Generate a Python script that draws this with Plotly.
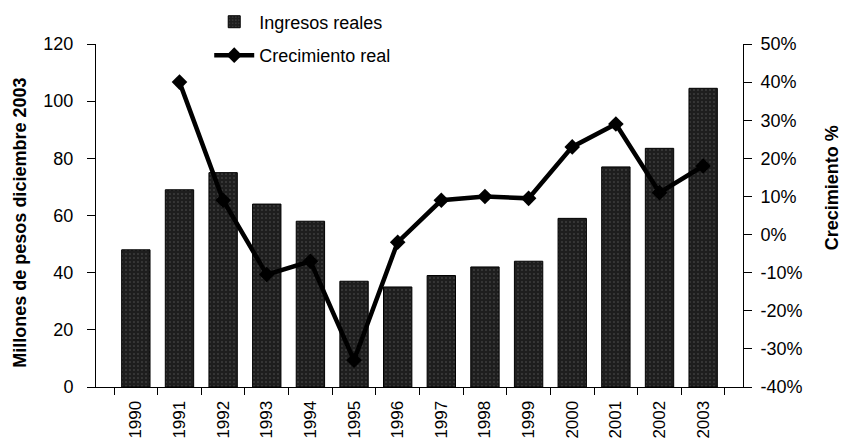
import plotly.graph_objects as go

# Ingresos reales (millones de pesos de diciembre 2003) y crecimiento real anual (%)
years = ["1990", "1991", "1992", "1993", "1994", "1995", "1996",
         "1997", "1998", "1999", "2000", "2001", "2002", "2003"]
ingresos = [48, 69, 75, 64, 58, 37, 35, 39, 42, 44, 59, 77, 83.5, 104.5]
crecimiento = [None, 40, 9, -10.5, -7, -33, -2, 9, 10, 9.5, 23, 29, 11, 18]

left_ticks = [0, 20, 40, 60, 80, 100, 120]
right_ticks = [-40, -30, -20, -10, 0, 10, 20, 30, 40, 50]
right_labels = [f"{v}%" for v in right_ticks]

FONT = "Liberation Sans, Arial, sans-serif"

fig = go.Figure()

fig.add_trace(go.Bar(
    x=years, y=ingresos, name="Ingresos reales",
    marker=dict(
        color="#1e1e1e",
        line=dict(color="#000000", width=1),
        pattern=dict(shape=".", fgcolor="#8a8a8a", size=4, solidity=0.12),
    ),
    legendgroup="a",
))

fig.add_trace(go.Scatter(
    x=years, y=crecimiento, name="Crecimiento real", yaxis="y2",
    mode="lines+markers",
    line=dict(color="#000000", width=4.5),
    marker=dict(symbol="diamond", size=12, color="#000000"),
    connectgaps=False,
    legendgroup="b",
))

fig.update_layout(
    width=843, height=442,
    margin=dict(l=96, r=100, t=44, b=55, autoexpand=False),
    paper_bgcolor="white", plot_bgcolor="white",
    font=dict(family=FONT, size=18, color="#000000"),
    bargap=0.35,
    showlegend=True,
    legend=dict(
        x=0.175, xanchor="left", y=1.118, yanchor="top",
        font=dict(size=18), bgcolor="rgba(0,0,0,0)",
        traceorder="grouped", tracegroupgap=7,
        itemwidth=40,
    ),
    xaxis=dict(
        type="category", showline=True, linecolor="#000000", linewidth=1,
        ticks="outside", ticklen=7, tickcolor="#000000", tickson="boundaries",
        tickangle=-90, tickfont=dict(size=17), showgrid=False,
        zeroline=False, ticklabelstandoff=6,
    ),
    yaxis=dict(
        range=[0, 120], tickvals=left_ticks, showline=True,
        linecolor="#000000", linewidth=1, ticks="outside", ticklen=8,
        tickcolor="#000000", showgrid=False, zeroline=False,
        tickfont=dict(size=18), ticklabelstandoff=10,
    ),
    yaxis2=dict(
        range=[-40, 50], tickvals=right_ticks, ticktext=right_labels,
        overlaying="y", side="right", showline=True, linecolor="#000000",
        linewidth=1, ticks="outside", ticklen=8, tickcolor="#000000",
        showgrid=False, zeroline=False, tickfont=dict(size=18),
        ticklabelstandoff=5,
    ),
    annotations=[
        dict(text="<b>Millones de pesos diciembre 2003</b>", textangle=-90,
             xref="paper", yref="paper", x=-0.117, y=0.48,
             xanchor="center", yanchor="middle", showarrow=False,
             font=dict(size=18)),
        dict(text="<b>Crecimiento %</b>", textangle=-90,
             xref="paper", yref="paper", x=1.138, y=0.58,
             xanchor="center", yanchor="middle", showarrow=False,
             font=dict(size=18)),
    ],
)

fig.write_html("out.html")
